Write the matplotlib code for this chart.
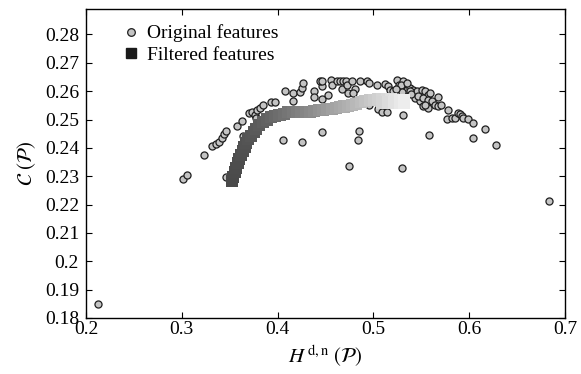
import numpy as np
import matplotlib
matplotlib.use("Agg")
import matplotlib.pyplot as plt
from matplotlib.lines import Line2D

# original features (H^{d,n}, C)
orig_x = [0.3016, 0.3051, 0.3235, 0.3320, 0.3354, 0.3388, 0.3423, 0.3444, 0.3464, 0.3579,
          0.3625, 0.3636, 0.3464, 0.3701, 0.3730, 0.3764, 0.3788, 0.3816, 0.3851, 0.3774,
          0.3936, 0.3971, 0.4077, 0.4158, 0.4158, 0.4234, 0.4258, 0.4268, 0.4060, 0.4258,
          0.4467, 0.4380, 0.4380, 0.4467, 0.4529, 0.4460, 0.4442, 0.4467, 0.4557, 0.4571,
          0.4617, 0.4651, 0.4675, 0.4686, 0.4711, 0.4727, 0.4738, 0.4773, 0.4808, 0.4790,
          0.4860, 0.4930, 0.4957, 0.5041, 0.5121, 0.5155, 0.5173, 0.5208, 0.5243, 0.5270,
          0.5312, 0.5330, 0.5348, 0.5382, 0.5416, 0.5452, 0.5504, 0.5539, 0.5573, 0.5434,
          0.5486, 0.5521, 0.5567, 0.5469, 0.4954, 0.5051, 0.5087, 0.5139, 0.5305, 0.4850,
          0.4843, 0.4748, 0.5295, 0.5583, 0.5591, 0.5521, 0.5573, 0.5539, 0.5608, 0.5643,
          0.5677, 0.5703, 0.5670, 0.5775, 0.5771, 0.5817, 0.5852, 0.5886, 0.5904, 0.5922,
          0.5938, 0.5990, 0.6043, 0.6165, 0.6035, 0.6280, 0.6836, 0.2125, 0.5278, 0.5290,
          0.5350, 0.5380, 0.5300, 0.5240, 0.5390]
orig_y = [0.2291, 0.2305, 0.2376, 0.2405, 0.2412, 0.2422, 0.2433, 0.2448, 0.2460, 0.2476,
          0.2493, 0.2442, 0.2298, 0.2522, 0.2528, 0.2516, 0.2534, 0.2540, 0.2550, 0.2507,
          0.2561, 0.2561, 0.2602, 0.2594, 0.2566, 0.2596, 0.2611, 0.2629, 0.2427, 0.2422,
          0.2455, 0.2600, 0.2578, 0.2572, 0.2588, 0.2617, 0.2637, 0.2637, 0.2639, 0.2621,
          0.2637, 0.2635, 0.2608, 0.2637, 0.2637, 0.2623, 0.2594, 0.2637, 0.2609, 0.2594,
          0.2637, 0.2637, 0.2629, 0.2623, 0.2626, 0.2617, 0.2605, 0.2600, 0.2641, 0.2623,
          0.2635, 0.2614, 0.2605, 0.2611, 0.2605, 0.2600, 0.2605, 0.2600, 0.2588, 0.2576,
          0.2564, 0.2546, 0.2540, 0.2582, 0.2552, 0.2538, 0.2528, 0.2528, 0.2517, 0.2459,
          0.2427, 0.2336, 0.2329, 0.2445, 0.2594, 0.2576, 0.2570, 0.2552, 0.2564, 0.2552,
          0.2546, 0.2550, 0.2578, 0.2534, 0.2501, 0.2507, 0.2507, 0.2522, 0.2519, 0.2514,
          0.2507, 0.2502, 0.2487, 0.2465, 0.2433, 0.2410, 0.2214, 0.1848, 0.2611, 0.2620,
          0.2628, 0.2599, 0.2596, 0.2606, 0.2591]

# filtered features (smoothed path)
filt_x = [0.3524, 0.3539, 0.3553, 0.3568, 0.3582, 0.3597, 0.3617, 0.3636, 0.3655, 0.3674,
          0.3694, 0.3722, 0.3750, 0.3778, 0.3806, 0.3846, 0.3887, 0.3928, 0.3974, 0.4020,
          0.4066, 0.4112, 0.4157, 0.4202, 0.4247, 0.4293, 0.4338, 0.4383, 0.4429, 0.4474,
          0.4520, 0.4565, 0.4607, 0.4648, 0.4690, 0.4732, 0.4774, 0.4821, 0.4869, 0.4916,
          0.4964, 0.5008, 0.5052, 0.5095, 0.5139, 0.5185, 0.5231, 0.5277, 0.5322,
          0.5090, 0.5152, 0.5215, 0.5278, 0.5322]
filt_y = [0.2282, 0.2298, 0.2314, 0.2330, 0.2346, 0.2362, 0.2376, 0.2390, 0.2404, 0.2417,
          0.2431, 0.2443, 0.2456, 0.2468, 0.2481, 0.2490, 0.2500, 0.2509, 0.2513, 0.2517,
          0.2521, 0.2525, 0.2526, 0.2526, 0.2527, 0.2528, 0.2528, 0.2530, 0.2532, 0.2534,
          0.2536, 0.2538, 0.2541, 0.2543, 0.2546, 0.2549, 0.2552, 0.2556, 0.2561, 0.2565,
          0.2570, 0.2570, 0.2572, 0.2572, 0.2573, 0.2572, 0.2570, 0.2569, 0.2568,
          0.2560, 0.2560, 0.2560, 0.2560, 0.2560]

xticks = [0.2, 0.3, 0.4, 0.5, 0.6, 0.7]
yticks = [0.18, 0.19, 0.2, 0.21, 0.22, 0.23, 0.24, 0.25, 0.26, 0.27, 0.28]

plt.rcParams['font.family'] = ['Liberation Serif', 'DejaVu Serif']
plt.rcParams['mathtext.fontset'] = 'stix'

fig = plt.figure(figsize=(5.81, 3.74), dpi=100)
ax = fig.add_axes([0.148, 0.150, 0.8245, 0.826])

# gray level follows position along the path
fx = np.array(filt_x)
frac = (fx - fx.min()) / (fx.max() - fx.min())
g = 0.29 + 0.64 * frac ** 1.2
cols = np.stack([g, g, g], axis=1)

ax.scatter(orig_x, orig_y, s=26, marker='o', facecolor='#c4c4c4',
           edgecolor='#1e1e1e', linewidth=0.9, zorder=2)
ax.scatter(filt_x, filt_y, s=76, marker='s', c=cols, linewidth=0, zorder=3)

ax.set_xlim(0.2, 0.7)
ax.set_ylim(0.18, 0.289)
ax.set_xticks(xticks)
ax.set_xticklabels(['0.2', '0.3', '0.4', '0.5', '0.6', '0.7'])
ax.set_yticks(yticks)
ax.set_yticklabels(['0.18', '0.19', '0.2', '0.21', '0.22', '0.23', '0.24', '0.25',
                    '0.26', '0.27', '0.28'])
ax.tick_params(direction='in', top=True, right=True, length=4, width=0.8,
               labelsize=14)
ax.tick_params(axis='x', pad=2)
ax.tick_params(axis='y', pad=5)
for sp in ax.spines.values():
    sp.set_linewidth(1.0)

ax.set_xlabel(r'$H^{\,\mathrm{d,n}}\ (\mathcal{P})$', fontsize=15, labelpad=4)
ax.set_ylabel(r'$\mathcal{C}\ (\mathcal{P})$', fontsize=15, labelpad=5)

handles = [Line2D([], [], linestyle='none', marker='o', markersize=5.5,
                  markerfacecolor='#c4c4c4', markeredgecolor='#1e1e1e', markeredgewidth=0.9),
           Line2D([], [], linestyle='none', marker='s', markersize=7,
                  markerfacecolor='#1a1a1a', markeredgecolor='#1a1a1a')]
ax.legend(handles, ['Original features', 'Filtered features'], loc='upper left',
          bbox_to_anchor=(0.042, 1.0), frameon=False, fontsize=14,
          handletextpad=0.3, handlelength=1.0, labelspacing=0.2, borderpad=0.3)

fig.savefig('out.png', dpi=100)
